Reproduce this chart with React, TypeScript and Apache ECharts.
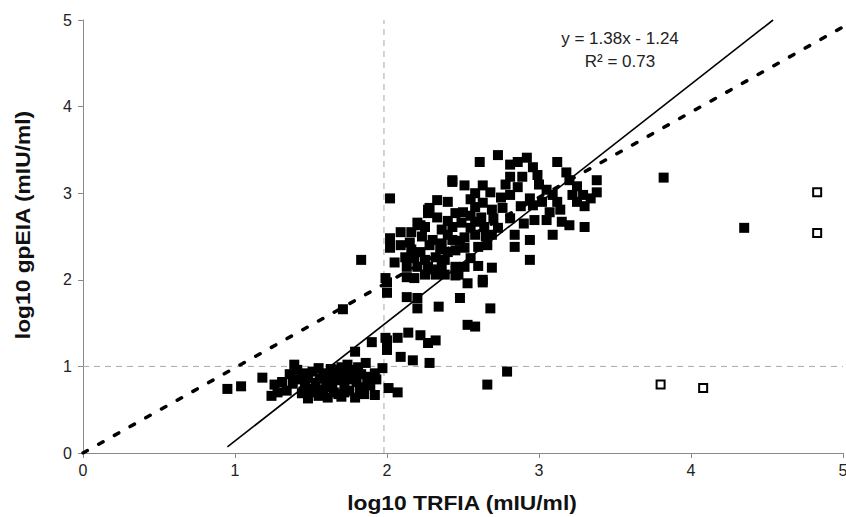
import React, { useEffect, useRef } from "react";
import * as echarts from "echarts";

// Axis ticks
const xTicks = [0, 1, 2, 3, 4, 5];
const yTicks = [0, 1, 2, 3, 4, 5];

// Filled squares: low cluster (TRFIA 1-2, gpEIA < 1.3)
const lowCluster: number[][] = [
  [0.95, 0.74], [1.04, 0.77], [1.18, 0.87], [1.24, 0.66], [1.26, 0.79], [1.31, 0.82],
  [1.39, 1.02], [1.41, 0.96], [1.44, 0.69], [1.48, 0.88], [1.53, 0.81], [1.55, 0.98],
  [1.57, 0.73], [1.61, 0.64], [1.61, 0.9], [1.66, 0.84], [1.68, 0.96], [1.7, 0.65],
  [1.72, 0.79], [1.74, 1.02], [1.77, 0.92], [1.79, 1.17], [1.81, 0.99], [1.84, 0.76],
  [1.86, 1.04], [1.88, 0.88], [1.9, 1.28], [1.92, 0.67], [1.97, 0.98], [2.0, 1.3],
  [2.0, 1.19], [2.01, 0.75], [1.34, 0.72], [1.46, 0.78], [1.5, 0.7], [1.56, 0.86],
  [1.6, 0.76], [1.65, 0.7], [1.7, 0.86], [1.75, 0.72], [1.8, 0.82], [1.85, 0.68],
  [1.58, 0.92], [1.64, 0.78], [1.68, 0.68], [1.79, 0.64], [1.42, 0.85], [1.51, 0.94],
  [1.73, 0.91], [1.83, 0.91], [1.36, 0.91], [1.89, 0.78], [1.93, 0.85], [1.48, 0.63],
  [1.55, 0.66], [1.45, 0.92], [1.52, 0.74], [1.62, 0.82], [1.67, 0.9], [1.72, 0.7],
  [1.76, 0.85], [1.82, 0.72], [1.87, 0.82], [1.58, 0.68], [1.63, 0.97], [1.78, 0.96],
  [1.38, 0.8], [1.45, 0.71], [1.92, 0.92], [1.28, 0.7], [1.7, 0.99],
];

// Filled squares: middle band
const midCluster: number[][] = [
  [1.71, 1.66], [1.83, 2.23], [1.99, 1.33], [2.07, 1.33], [2.14, 1.39], [2.22, 1.36],
  [2.27, 1.27], [2.32, 1.3], [2.09, 1.11], [2.17, 1.07], [2.28, 1.04], [2.07, 0.7],
  [2.66, 0.79], [2.79, 0.94], [2.0, 1.97], [2.0, 1.85], [2.13, 1.8], [2.2, 1.79],
  [2.2, 1.67], [2.34, 1.69], [2.48, 1.79], [2.53, 1.96], [2.63, 1.97], [2.68, 1.67],
  [2.53, 1.48], [2.58, 1.46],
];

// Filled squares: main upper cloud
const upperCluster: number[][] = [
  [2.02, 2.94], [2.43, 3.15], [2.51, 3.09], [2.61, 3.36], [2.58, 3.0], [2.63, 3.09],
  [2.68, 3.01], [2.33, 2.92], [2.28, 2.83], [2.27, 2.77], [2.45, 2.77], [2.5, 2.78],
  [2.58, 2.84], [2.63, 2.89], [2.69, 2.81], [2.2, 2.66], [2.25, 2.61], [2.09, 2.55],
  [2.16, 2.55], [2.02, 2.48], [2.02, 2.37], [2.36, 2.58], [2.43, 2.61], [2.49, 2.66],
  [2.58, 2.67], [2.64, 2.61], [2.69, 2.52], [2.3, 2.46], [2.36, 2.42], [2.43, 2.46],
  [2.51, 2.49], [2.58, 2.52], [2.45, 2.34], [2.51, 2.37], [2.6, 2.38], [2.66, 2.4],
  [2.12, 2.26], [2.18, 2.25], [2.25, 2.23], [2.32, 2.26], [2.38, 2.23], [2.13, 2.15],
  [2.2, 2.15], [2.27, 2.15], [2.36, 2.15], [2.45, 2.15], [2.51, 2.15], [2.13, 2.03],
  [2.18, 2.02], [2.25, 2.06], [2.32, 2.06], [2.38, 2.06], [2.47, 2.06], [1.99, 2.02],
  [2.63, 2.0], [2.69, 2.14], [2.22, 2.63], [2.27, 2.81], [2.4, 2.9], [2.55, 2.93],
  [2.35, 2.35], [2.28, 2.4], [2.4, 2.52], [2.55, 2.6], [2.62, 2.72], [2.48, 2.45],
  [2.22, 2.32], [2.3, 2.12], [2.4, 2.32], [2.55, 2.25], [2.6, 2.16], [2.05, 2.2],
  [2.09, 2.4], [2.15, 2.43], [2.4, 2.68], [2.33, 2.72], [2.55, 2.74], [2.65, 2.5],
  [2.23, 2.5], [2.16, 2.35], [2.45, 2.05],
];

// Filled squares: high cloud (TRFIA 2.7-3.4)
const highCluster: number[][] = [
  [2.73, 3.44], [2.81, 3.33], [2.86, 3.36], [2.92, 3.41], [2.96, 3.3], [2.99, 3.21],
  [2.81, 3.19], [2.89, 3.19], [3.12, 3.36], [3.18, 3.24], [3.2, 3.15], [3.38, 3.15],
  [3.38, 3.01], [3.29, 2.98], [3.22, 2.98], [3.25, 2.9], [3.34, 2.94], [2.81, 2.98],
  [2.94, 2.94], [3.05, 3.04], [3.09, 2.98], [2.96, 2.86], [2.76, 2.83], [3.07, 2.78],
  [3.14, 2.81], [2.97, 2.69], [3.05, 2.69], [3.15, 2.67], [3.2, 2.63], [3.3, 2.61],
  [2.7, 2.71], [2.81, 2.71], [3.09, 2.52], [2.94, 2.46], [2.84, 2.38], [2.84, 2.52],
  [2.94, 2.23], [2.43, 3.13], [2.73, 2.6], [2.75, 2.95], [2.88, 2.85], [2.9, 2.65],
  [3.02, 2.9], [3.12, 2.9], [2.86, 3.07], [3.0, 3.1], [2.78, 3.1], [3.25, 3.08],
  [3.3, 2.85],
];

// Filled outliers
const filledOutliers: number[][] = [[3.82, 3.18], [4.35, 2.6]];

// Open squares
const openPoints: number[][] = [[4.83, 3.01], [4.83, 2.54], [3.8, 0.79], [4.08, 0.75]];

// Regression line y = 1.38x - 1.24
const regressionLine: number[][] = [[0.95, 0.07], [4.54, 5.0]];
// Dotted line of agreement
const agreementLine: number[][] = [[0, 0], [5, 4.92]];
// Cut-off reference lines
const cutoffVertical: number[][] = [[1.98, 0], [1.98, 5]];
const cutoffHorizontal: number[][] = [[0, 1], [5, 1]];

const equationText = "y = 1.38x - 1.24";
const r2Text = "R² = 0.73";

export default function App() {
  const ref = useRef<HTMLDivElement>(null);
  useEffect(() => {
    if (!ref.current) return;
    const chart = echarts.init(ref.current, null, { renderer: "svg" });
    const font = "'Liberation Sans', Arial, Helvetica, sans-serif";
    const filled = [...lowCluster, ...midCluster, ...upperCluster, ...highCluster, ...filledOutliers];
    chart.setOption({
      animation: false,
      backgroundColor: "#ffffff",
      grid: { left: 83, right: 3, top: 20, bottom: 64, containLabel: false, outerBoundsMode: "none" },
      xAxis: {
        type: "value",
        min: xTicks[0],
        max: xTicks[xTicks.length - 1],
        interval: 1,
        splitLine: { show: false },
        axisLine: { show: true, onZero: false, lineStyle: { color: "#8a8a8a", width: 1 } },
        axisTick: { show: true, length: 5, lineStyle: { color: "#8a8a8a" } },
        axisLabel: { color: "#222", fontSize: 16, fontFamily: font, margin: 9 },
      },
      yAxis: {
        type: "value",
        min: yTicks[0],
        max: yTicks[yTicks.length - 1],
        interval: 1,
        splitLine: { show: false },
        axisLine: { show: true, onZero: false, lineStyle: { color: "#8a8a8a", width: 1 } },
        axisTick: { show: true, length: 5, lineStyle: { color: "#8a8a8a" } },
        axisLabel: { color: "#222", fontSize: 16, fontFamily: font, margin: 11 },
      },
      graphic: [
        {
          type: "text",
          x: 462,
          y: 503,
          scaleX: 1.14,
          style: {
            text: "log10 TRFIA (mIU/ml)",
            font: `bold 20px ${font}`,
            fill: "#111",
            align: "center",
            verticalAlign: "middle",
          },
        },
        {
          type: "text",
          x: 23,
          y: 225,
          rotation: Math.PI / 2,
          scaleX: 1.14,
          style: {
            text: "log10 gpEIA (mIU/ml)",
            font: `bold 20px ${font}`,
            fill: "#111",
            align: "center",
            verticalAlign: "middle",
          },
        },
        {
          type: "text",
          x: 620,
          y: 38,
          style: {
            text: equationText,
            font: `17px ${font}`,
            fill: "#222",
            align: "center",
            verticalAlign: "middle",
          },
        },
        {
          type: "text",
          x: 620,
          y: 61,
          style: {
            text: r2Text,
            font: `17px ${font}`,
            fill: "#222",
            align: "center",
            verticalAlign: "middle",
          },
        },
      ],
      series: [
        {
          type: "line",
          data: cutoffVertical,
          symbol: "none",
          lineStyle: { color: "#a8a8a8", width: 1, type: [6, 5] },
          silent: true,
          z: 1,
        },
        {
          type: "line",
          data: cutoffHorizontal,
          symbol: "none",
          lineStyle: { color: "#a8a8a8", width: 1, type: [6, 5] },
          silent: true,
          z: 1,
        },
        {
          type: "scatter",
          data: filled,
          symbol: "rect",
          symbolSize: 10,
          itemStyle: { color: "#000", opacity: 1 },
          z: 2,
        },
        {
          type: "scatter",
          data: openPoints,
          symbol: "rect",
          symbolSize: 8,
          itemStyle: { color: "#fff", borderColor: "#000", borderWidth: 2, opacity: 1 },
          z: 2,
        },
        {
          type: "line",
          data: agreementLine,
          symbol: "none",
          lineStyle: { color: "#000", width: 3.5, type: [5, 13], cap: "round" },
          z: 3,
        },
        {
          type: "line",
          data: regressionLine,
          symbol: "none",
          lineStyle: { color: "#000", width: 1.6 },
          z: 3,
        },
      ],
    });
    return () => chart.dispose();
  }, []);
  return (
    <div
      ref={ref}
      style={{ position: "fixed", left: 0, top: 0, width: 846, height: 517, background: "#fff" }}
    />
  );
}
